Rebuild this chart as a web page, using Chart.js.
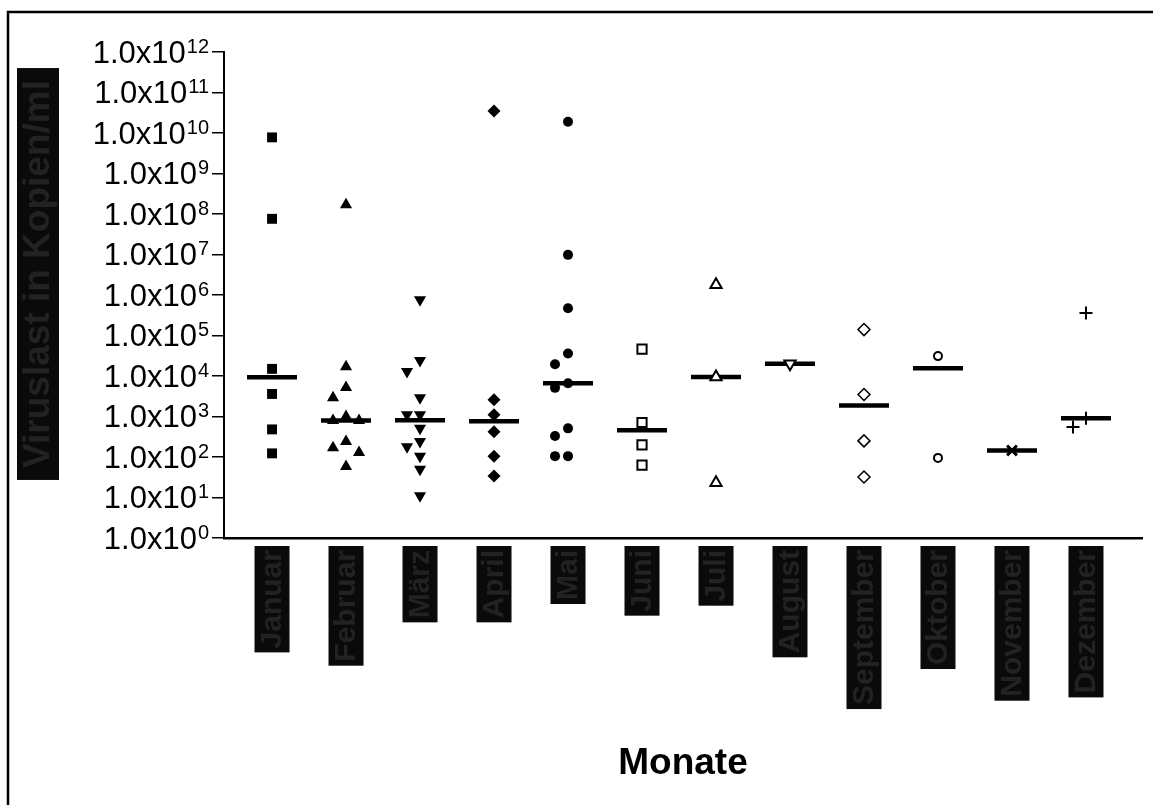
<!DOCTYPE html>
<html>
<head>
<meta charset="utf-8">
<script src="https://cdn.jsdelivr.net/npm/chart.js@4.4.1/dist/chart.umd.min.js"></script>
<style>
  html, body { margin: 0; padding: 0; background: #fff; overflow: hidden; }
  #wrap { width: 1153px; height: 805px; }
  canvas { display: block; }
</style>
</head>
<body>
<div id="wrap"><canvas id="chart" width="1153" height="805"></canvas></div>
<script>
const months = ['Januar', 'Februar', 'März', 'April', 'Mai', 'Juni', 'Juli', 'August', 'September', 'Oktober', 'November', 'Dezember'];
const yTickValues = [1e0, 1e1, 1e2, 1e3, 1e4, 1e5, 1e6, 1e7, 1e8, 1e9, 1e10, 1e11, 1e12];
const yTitle = 'Viruslast in Kopien/ml';
const xTitle = 'Monate';

const jan = [7.8e9, 7.6e7, 1.5e4, 3.6e3, 480, 123];
const feb = [1.7e8, 1.7e4, 5.2e3, 2.9e3, 1.0e3, 800, 800, 240, 170, 130, 58];
const mar = [7.6e5, 2.4e4, 1.3e4, 2.9e3, 1.1e3, 1.1e3, 510, 240, 180, 105, 50, 11];
const apr = [3.5e10, 2.6e3, 1.1e3, 420, 105, 34];
const mai = [1.9e10, 9.8e6, 4.7e5, 3.6e4, 1.95e4, 6.6e3, 5.1e3, 510, 330, 105, 105];
const jun = [4.6e4, 710, 200, 63];
const jul = [1.8e6, 9.5e3, 23];
const aug = [2.0e4];
const sep = [1.4e5, 3.5e3, 250, 32];
const okt = [3.1e4, 95];
const nov = [145];
const dez = [3.6e5, 910, 550];

const monthValues = [jan, feb, mar, apr, mai, jun, jul, aug, sep, okt, nov, dez];

// marker look per month (filled first half, open second half)
const styles = [
  { s: 'rect', r: 7, fill: '#000', bw: 0 },
  { s: 'triangle', r: 7, fill: '#000', bw: 0 },
  { s: 'triangle', r: 7, fill: '#000', bw: 0, rot: 180 },
  { s: 'rectRot', r: 6.5, fill: '#000', bw: 0 },
  { s: 'circle', r: 5, fill: '#000', bw: 0 },
  { s: 'rect', r: 6.5, fill: '#fff', bw: 2 },
  { s: 'triangle', r: 6.5, fill: '#fff', bw: 2 },
  { s: 'triangle', r: 6.5, fill: '#fff', bw: 2, rot: 180 },
  { s: 'rectRot', r: 6, fill: '#fff', bw: 1.5 },
  { s: 'circle', r: 4, fill: '#fff', bw: 2 },
  { s: 'crossRot', r: 7, fill: '#000', bw: 3 },
  { s: 'cross', r: 6.5, fill: '#000', bw: 2 }
];

function median(vals) {
  const v = vals.slice().sort((a, b) => a - b);
  const m = Math.floor(v.length / 2);
  return v.length % 2 ? v[m] : (v[m - 1] + v[m]) / 2;
}

// simple column scatter: spread points that would overlap
function swarm(vals, idx) {
  const pxDecade = 40.5, pxCat = 74, step = 13, minGap = 12;
  const placed = [];
  return vals.slice().sort((a, b) => b - a).map(v => {
    const py = Math.log10(v) * pxDecade;
    let off = 0;
    for (const c of [0, -1, 1, -2, 2]) {
      if (!placed.some(p => p.off === c && Math.abs(p.py - py) < minGap)) { off = c; break; }
    }
    placed.push({ py, off });
    return { x: idx + off * step / pxCat, y: v };
  });
}

const datasets = monthValues.map((vals, i) => ({
  data: swarm(vals, i),
  pointStyle: styles[i].s,
  pointRadius: styles[i].r,
  pointBackgroundColor: styles[i].fill,
  pointBorderColor: '#000',
  pointBorderWidth: styles[i].bw,
  pointRotation: styles[i].rot || 0,
  order: 0
}));

datasets.push({
  data: monthValues.map((vals, i) => ({ x: i, y: median(vals) })),
  pointStyle: 'line',
  pointRadius: 25,
  pointBorderWidth: 4.5,
  pointBorderColor: '#000',
  order: 1
});

const labelFont = 'bold 30px "Liberation Sans", Arial, sans-serif';
const titleFont = 'bold 37px "Liberation Sans", Arial, sans-serif';

const decor = {
  id: 'decor',
  beforeDraw(chart) {
    const ctx = chart.ctx;
    ctx.save();
    ctx.fillStyle = '#fff';
    ctx.fillRect(0, 0, chart.width, chart.height);
    // frame (top and left only)
    ctx.strokeStyle = '#000';
    ctx.lineWidth = 2.5;
    ctx.beginPath();
    ctx.moveTo(8, chart.height + 5);
    ctx.lineTo(8, 12);
    ctx.lineTo(chart.width + 5, 12);
    ctx.stroke();
    ctx.restore();
  },
  afterDraw(chart) {
    const ctx = chart.ctx;
    const ys = chart.scales.y;
    const xs = chart.scales.x;
    ctx.save();
    ctx.fillStyle = '#000';
    ys.ticks.forEach(t => {
      const py = ys.getPixelForValue(t.value);
      const exp = String(Math.round(Math.log10(t.value)));
      ctx.font = '20px "Liberation Sans", Arial, sans-serif';
      const ew = ctx.measureText(exp).width;
      ctx.textAlign = 'left';
      ctx.textBaseline = 'top';
      ctx.fillText(exp, 209 - ew, py - 15);
      ctx.font = '31px "Liberation Sans", Arial, sans-serif';
      ctx.textAlign = 'right';
      ctx.textBaseline = 'middle';
      ctx.fillText('1.0x10', 208 - ew, py + 2);
    });

    // month labels on dark boxes, reading bottom to top
    ctx.font = labelFont;
    months.forEach((m, i) => {
      const px = xs.getPixelForValue(i);
      const w = ctx.measureText(m).width;
      ctx.fillStyle = '#0a0a0a';
      ctx.fillRect(px - 17.5, 546, 35, w + 8);
      ctx.save();
      ctx.translate(px, 550);
      ctx.rotate(-Math.PI / 2);
      ctx.fillStyle = '#222';
      ctx.textAlign = 'right';
      ctx.textBaseline = 'middle';
      ctx.fillText(m, 0, 1);
      ctx.restore();
    });

    // y title on dark box
    ctx.font = titleFont;
    const tw = ctx.measureText(yTitle).width;
    ctx.fillStyle = '#0a0a0a';
    ctx.fillRect(17, 274 - tw / 2 - 12, 42, tw + 24);
    ctx.translate(38, 274);
    ctx.rotate(-Math.PI / 2);
    ctx.fillStyle = '#222';
    ctx.textAlign = 'center';
    ctx.textBaseline = 'middle';
    ctx.fillText(yTitle, 0, 1);
    ctx.restore();
  }
};

new Chart(document.getElementById('chart'), {
  type: 'scatter',
  data: { datasets },
  options: {
    responsive: false,
    animation: false,
    layout: { autoPadding: false, padding: { left: 0, top: 52, right: 11, bottom: 0 } },
    plugins: { legend: { display: false }, tooltip: { enabled: false } },
    scales: {
      x: {
        type: 'linear',
        min: -0.649,
        max: 11.757,
        afterFit(scale) { scale.height = 267; },
        afterBuildTicks(scale) { scale.ticks = months.map((m, i) => ({ value: i })); },
        grid: { display: false },
        border: { display: true, color: '#000', width: 2.5 },
        ticks: { display: false },
        title: {
          display: true,
          text: xTitle,
          color: '#000',
          font: { family: '"Liberation Sans", Arial, sans-serif', size: 37, weight: 'bold' },
          padding: { top: 0, bottom: 19 }
        }
      },
      y: {
        type: 'logarithmic',
        min: 1,
        max: 1e12,
        afterFit(scale) { scale.width = 224; },
        afterBuildTicks(scale) { scale.ticks = yTickValues.map(v => ({ value: v })); },
        grid: { display: true, drawOnChartArea: false, drawTicks: true, tickLength: 12, color: '#000', lineWidth: 1.5 },
        border: { display: true, color: '#000', width: 2 },
        ticks: { display: false }
      }
    }
  },
  plugins: [decor]
});
</script>
</body>
</html>
